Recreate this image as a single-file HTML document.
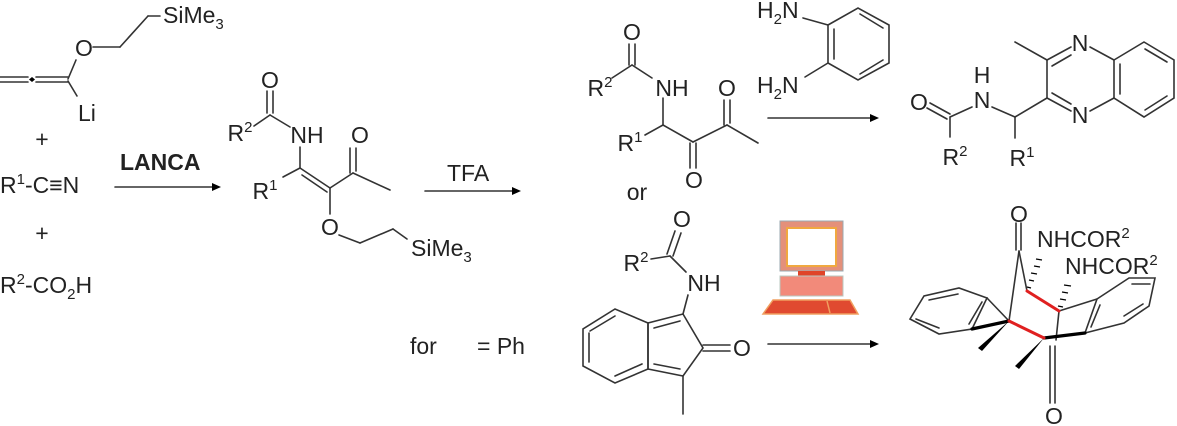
<!DOCTYPE html>
<html><head><meta charset="utf-8"><style>
html,body{margin:0;padding:0;background:#fff;overflow:hidden;}
svg{display:block;}
text{font-family:"Liberation Sans",Arial,sans-serif;font-size:23px;fill:#222;}
.s{font-size:15px;}
</style></head><body>
<svg width="1177" height="426" viewBox="0 0 1177 426" xmlns="http://www.w3.org/2000/svg">
<g stroke="#333" stroke-width="1.6" fill="none" stroke-linecap="round">
<!-- allene -->
<line x1="0" y1="77" x2="28" y2="77"/><line x1="0" y1="82" x2="28" y2="82"/>
<line x1="36" y1="77" x2="68" y2="77"/><line x1="36" y1="82" x2="68" y2="82"/>
<line x1="68" y1="79" x2="76" y2="60"/>
<line x1="93" y1="47" x2="120" y2="47"/><line x1="120" y1="47" x2="148" y2="16"/><line x1="148" y1="16" x2="160" y2="16"/>
<line x1="68" y1="81" x2="77" y2="96"/>
<!-- arrow LANCA -->
<line x1="115" y1="187" x2="212" y2="187"/>
<!-- intermediate -->
<line x1="267" y1="91" x2="267" y2="113"/><line x1="273" y1="91" x2="273" y2="113"/>
<line x1="270" y1="115" x2="254" y2="126"/><line x1="270" y1="115" x2="290" y2="127"/>
<line x1="300" y1="147" x2="300" y2="168"/>
<line x1="300" y1="168" x2="283" y2="177"/>
<line x1="300" y1="168" x2="330" y2="188"/><line x1="302" y1="175" x2="327" y2="192"/>
<line x1="330" y1="188" x2="353" y2="173"/>
<line x1="350" y1="148" x2="350" y2="173"/><line x1="356" y1="148" x2="356" y2="171"/>
<line x1="353" y1="173" x2="390" y2="190"/>
<line x1="330" y1="188" x2="330" y2="214"/>
<line x1="339" y1="235" x2="360" y2="243"/><line x1="360" y1="243" x2="393" y2="229"/><line x1="393" y1="229" x2="407" y2="239"/>
<!-- TFA arrow -->
<line x1="425" y1="191" x2="512" y2="191"/>
<!-- diketone -->
<line x1="629" y1="44" x2="629" y2="65"/><line x1="635" y1="44" x2="635" y2="65"/>
<line x1="632" y1="65" x2="612" y2="78"/><line x1="632" y1="65" x2="652" y2="78"/>
<line x1="663" y1="98" x2="663" y2="125"/>
<line x1="663" y1="125" x2="645" y2="135"/>
<line x1="663" y1="125" x2="693" y2="142"/>
<line x1="690" y1="143" x2="690" y2="168"/><line x1="696" y1="143" x2="696" y2="168"/>
<line x1="693" y1="142" x2="727" y2="125"/>
<line x1="724" y1="100" x2="724" y2="125"/><line x1="730" y1="100" x2="730" y2="123"/>
<line x1="727" y1="125" x2="758" y2="143"/>
<!-- diamine -->
<line x1="803" y1="18" x2="828" y2="25"/><line x1="805" y1="77" x2="828" y2="63"/>
<polygon points="828,25 858,8 889,25 889,63 858,80 828,63"/>
<line x1="834" y1="29" x2="834" y2="59"/><line x1="860" y1="14" x2="883" y2="28"/><line x1="883" y1="60" x2="860" y2="74"/>
<line x1="768" y1="118" x2="870" y2="118"/>
<!-- quinoxaline product -->
<line x1="930" y1="103" x2="950" y2="114"/><line x1="927" y1="108" x2="947" y2="119"/>
<line x1="950" y1="117" x2="950" y2="137"/>
<line x1="950" y1="117" x2="972" y2="107"/>
<line x1="992" y1="107" x2="1015" y2="117"/>
<line x1="1015" y1="117" x2="1015" y2="138"/>
<line x1="1015" y1="117" x2="1047" y2="98"/>
<line x1="1047" y1="60" x2="1015" y2="42"/>
<line x1="1047" y1="60" x2="1047" y2="98"/>
<line x1="1047" y1="60" x2="1071" y2="47"/><line x1="1052" y1="66" x2="1071" y2="55"/>
<line x1="1047" y1="98" x2="1071" y2="111"/><line x1="1052" y1="93" x2="1071" y2="104"/>
<line x1="1090" y1="47" x2="1114" y2="60"/><line x1="1090" y1="111" x2="1114" y2="98"/>
<polygon points="1114,60 1144,42 1174,60 1174,98 1144,117 1114,98"/>
<line x1="1120" y1="64" x2="1120" y2="94"/><line x1="1145" y1="49" x2="1167" y2="62"/><line x1="1167" y1="96" x2="1145" y2="110"/>
<!-- indenone -->
<line x1="675" y1="231" x2="667" y2="254"/><line x1="681" y1="233" x2="673" y2="256"/>
<line x1="670" y1="256" x2="651" y2="259"/><line x1="670" y1="256" x2="686" y2="272"/>
<line x1="688" y1="295" x2="683" y2="314"/>
<polygon points="683,314 703,348 683,376 648,369 648,323"/>
<line x1="680" y1="321" x2="654" y2="328"/><line x1="680" y1="369" x2="654" y2="364"/>
<line x1="703" y1="345" x2="730" y2="345"/><line x1="703" y1="351" x2="730" y2="351"/>
<line x1="683" y1="376" x2="683" y2="414"/>
<polygon points="648,323 615,309 583,329 583,366 615,383 648,369"/>
<line x1="615" y1="316" x2="590" y2="331"/><line x1="589" y1="333" x2="589" y2="362"/><line x1="615" y1="376" x2="642" y2="364"/>
<line x1="768" y1="344" x2="870" y2="344"/>
<!-- cage -->
<line x1="1016" y1="223" x2="1016" y2="250"/><line x1="1021" y1="223" x2="1021" y2="250"/>
<line x1="1019" y1="251" x2="1009" y2="321"/><line x1="1019" y1="251" x2="1027" y2="291"/>
<line x1="987" y1="298" x2="1009" y2="321"/>
<polygon points="987,298 959,288 924,296 910,319 939,334 972,329"/>
<line x1="958" y1="294" x2="929" y2="300"/><line x1="916" y1="319" x2="939" y2="328"/><line x1="982" y1="302" x2="969" y2="324"/>
<line x1="1059" y1="311" x2="1097" y2="299"/>
<line x1="1059" y1="311" x2="1056" y2="340"/>
<line x1="1050" y1="346" x2="1050" y2="403"/><line x1="1055" y1="346" x2="1055" y2="403"/>
<polygon points="1097,299 1129,278 1155,278 1149,306 1124,323 1085,333"/>
<line x1="1132" y1="284" x2="1150" y2="284"/><line x1="1124" y1="316" x2="1143" y2="304"/><line x1="1091" y1="327" x2="1100" y2="305"/>
</g>
<g stroke="#000" stroke-width="3.2" stroke-linecap="round">
<line x1="972" y1="329" x2="1009" y2="321"/>
<line x1="1044" y1="338" x2="1085" y2="333"/>
</g>
<g stroke="#e02020" stroke-width="3" stroke-linecap="round">
<line x1="1027" y1="291" x2="1059" y2="311"/>
<line x1="1009" y1="321" x2="1044" y2="338"/>
</g>
<g fill="#000">
<polygon points="1009,321 978,348 982,351"/>
<polygon points="1044,338 1015,366 1019,369"/>
<polygon points="32,77 35,79.5 32,82 29,79.5"/>
<polygon points="212,183 212,191 221,187"/><polygon points="512,187 512,195 521,191"/>
<polygon points="870,114 870,122 879,118"/><polygon points="870,340 870,348 879,344"/>
</g>
<g stroke="#000" stroke-width="1.3">
<line x1="1027" y1="287" x2="1031" y2="288"/><line x1="1029" y1="280" x2="1034" y2="281"/><line x1="1031" y1="273" x2="1037" y2="274"/><line x1="1034" y1="266" x2="1040" y2="267"/><line x1="1036" y1="259" x2="1042" y2="260"/>
<line x1="1058" y1="306" x2="1063" y2="307"/><line x1="1060" y1="299" x2="1066" y2="300"/><line x1="1062" y1="292" x2="1068" y2="293"/><line x1="1064" y1="285" x2="1071" y2="286"/>
</g>
<!-- computer -->
<rect x="780" y="221" width="63" height="50" fill="#e4907a" stroke="#9aa8b0" stroke-width="1"/>
<rect x="787" y="228" width="49" height="38" fill="#fff" stroke="#f0a840" stroke-width="2"/>
<rect x="798" y="271" width="27" height="5" fill="#e04428"/>
<rect x="780" y="276" width="63" height="20" fill="#f28a7a" stroke="#b8c8c0" stroke-width="1"/>
<polygon points="773,300 850,300 858,314 763,314" fill="#e04a30" stroke="#f0a060" stroke-width="1.5"/>
<line x1="827" y1="301" x2="830" y2="313" stroke="#f0a060" stroke-width="1.5"/>
<!-- texts -->
<text x="84" y="56" text-anchor="middle">O</text>
<text x="163" y="23">SiMe<tspan class="s" dy="6">3</tspan></text>
<text x="78" y="121">Li</text>
<text x="42" y="147" text-anchor="middle">+</text>
<text x="0" y="193">R<tspan class="s" dy="-9">1</tspan><tspan dy="9">-C≡N</tspan></text>
<text x="42" y="241" text-anchor="middle">+</text>
<text x="0" y="293">R<tspan class="s" dy="-9">2</tspan><tspan dy="9">-CO</tspan><tspan class="s" dy="6">2</tspan><tspan dy="-6">H</tspan></text>
<text x="120" y="170" style="font-weight:bold">LANCA</text>
<text x="270" y="88" text-anchor="middle">O</text>
<text x="240" y="141" text-anchor="middle">R<tspan class="s" dy="-9">2</tspan></text>
<text x="307" y="143" text-anchor="middle">NH</text>
<text x="360" y="143" text-anchor="middle">O</text>
<text x="265" y="199" text-anchor="middle">R<tspan class="s" dy="-9">1</tspan></text>
<text x="330" y="235" text-anchor="middle">O</text>
<text x="411" y="256">SiMe<tspan class="s" dy="6">3</tspan></text>
<text x="447" y="181">TFA</text>
<text x="632" y="40" text-anchor="middle">O</text>
<text x="600" y="96" text-anchor="middle">R<tspan class="s" dy="-9">2</tspan></text>
<text x="672" y="96" text-anchor="middle">NH</text>
<text x="727" y="96" text-anchor="middle">O</text>
<text x="630" y="151" text-anchor="middle">R<tspan class="s" dy="-9">1</tspan></text>
<text x="694" y="188" text-anchor="middle">O</text>
<text x="637" y="200" text-anchor="middle">or</text>
<text x="757" y="18">H<tspan class="s" dy="6">2</tspan><tspan dy="-6">N</tspan></text>
<text x="757" y="93">H<tspan class="s" dy="6">2</tspan><tspan dy="-6">N</tspan></text>
<text x="919" y="110" text-anchor="middle">O</text>
<text x="982" y="83" text-anchor="middle">H</text>
<text x="982" y="108" text-anchor="middle">N</text>
<text x="955" y="165" text-anchor="middle">R<tspan class="s" dy="-9">2</tspan></text>
<text x="1022" y="166" text-anchor="middle">R<tspan class="s" dy="-9">1</tspan></text>
<text x="1080" y="51" text-anchor="middle">N</text>
<text x="1080" y="123" text-anchor="middle">N</text>
<text x="682" y="227" text-anchor="middle">O</text>
<text x="636" y="271" text-anchor="middle">R<tspan class="s" dy="-9">2</tspan></text>
<text x="704" y="291" text-anchor="middle">NH</text>
<text x="742" y="356" text-anchor="middle">O</text>
<text x="410" y="354">for</text>
<text x="477" y="354">= Ph</text>
<text x="1019" y="222" text-anchor="middle">O</text>
<text x="1037" y="247">NHCOR<tspan class="s" dy="-9">2</tspan></text>
<text x="1065" y="274">NHCOR<tspan class="s" dy="-9">2</tspan></text>
<text x="1054" y="424" text-anchor="middle">O</text>
</svg>
</body></html>
